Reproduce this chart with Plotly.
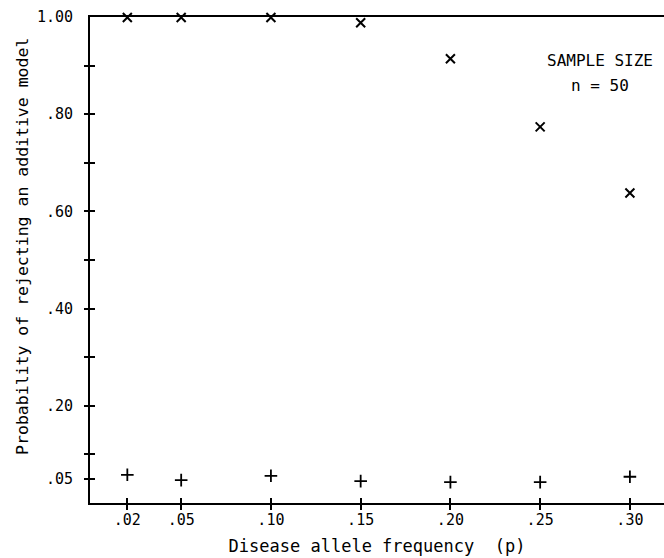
import plotly.graph_objects as go

# Data
p_values = [0.02, 0.05, 0.10, 0.15, 0.20, 0.25, 0.30]
x_series = [0.999, 0.999, 0.999, 0.988, 0.914, 0.774, 0.638]      # "X" markers
plus_series = [0.058, 0.047, 0.056, 0.045, 0.043, 0.043, 0.054]   # "+" markers

x_tick_vals = [0.02, 0.05, 0.10, 0.15, 0.20, 0.25, 0.30]
x_tick_text = [".02", ".05", ".10", ".15", ".20", ".25", ".30"]
y_label_vals = [0.05, 0.20, 0.40, 0.60, 0.80, 1.00]
y_label_text = [".05", ".20", ".40", ".60", ".80", "1.00"]
y_tick_vals = [0.05, 0.1, 0.2, 0.3, 0.4, 0.5, 0.6, 0.7, 0.8, 0.9]

FONT = "DejaVu Sans Mono"
XR = [-0.0008, 0.319]
YR = [0, 1]

fig = go.Figure()
fig.add_trace(go.Scatter(
    x=p_values, y=x_series, mode="markers",
    marker=dict(symbol="x-thin-open", size=9, line=dict(color="black", width=2), color="black"),
    showlegend=False, cliponaxis=False))
fig.add_trace(go.Scatter(
    x=p_values, y=plus_series, mode="markers",
    marker=dict(symbol="cross-thin-open", size=9, line=dict(color="black", width=1.8), color="black"),
    showlegend=False, cliponaxis=False))
# empty traces to attach overlay axes for crossing ticks
fig.add_trace(go.Scatter(x=[], y=[], xaxis="x2", yaxis="y2", showlegend=False))
fig.add_trace(go.Scatter(x=[], y=[], xaxis="x", yaxis="y3", showlegend=False))

fig.update_layout(
    width=664, height=558,
    margin=dict(l=90, r=0, t=17, b=55),
    paper_bgcolor="white", plot_bgcolor="white",
    font=dict(family=FONT, color="black", size=15),
    xaxis=dict(
        range=XR, showgrid=False, zeroline=False,
        showline=True, linecolor="black", linewidth=2, mirror=True,
        tickmode="array", tickvals=x_tick_vals, ticktext=x_tick_text,
        ticks="outside", ticklen=5, tickwidth=1.5, tickcolor="black",
        tickfont=dict(size=15, family=FONT), ticklabelstandoff=-3,
        title=dict(text="Disease allele frequency  (p)", font=dict(size=17, family=FONT), standoff=12),
    ),
    yaxis=dict(
        range=YR, showgrid=False, zeroline=False,
        showline=True, linecolor="black", linewidth=2,
        tickmode="array", tickvals=y_label_vals, ticktext=y_label_text,
        ticks="", tickfont=dict(size=15, family=FONT),
        ticklabelstandoff=12,
    ),
    xaxis2=dict(
        range=XR, overlaying="x", anchor="y2", side="bottom",
        showgrid=False, zeroline=False, showline=False,
        tickmode="array", tickvals=x_tick_vals, showticklabels=False,
        ticks="inside", ticklen=5, tickwidth=1.5, tickcolor="black",
    ),
    yaxis2=dict(
        range=YR, overlaying="y", anchor="x2", side="left",
        showgrid=False, zeroline=False, showline=False,
        tickmode="array", tickvals=y_tick_vals, showticklabels=False,
        ticks="inside", ticklen=5, tickwidth=1.5, tickcolor="black",
    ),
    yaxis3=dict(
        range=YR, overlaying="y", anchor="x", side="left",
        showgrid=False, zeroline=False, showline=False,
        tickmode="array", tickvals=y_tick_vals, showticklabels=False,
        ticks="outside", ticklen=5, tickwidth=1.5, tickcolor="black",
    ),
    annotations=[
        dict(text="Probability of rejecting an additive model", textangle=-90,
             x=0, y=0.527, xref="paper", yref="paper", xanchor="center", yanchor="middle",
             xshift=-67, showarrow=False, font=dict(size=16.5, family=FONT)),
        dict(text="SAMPLE SIZE", x=0.2834, y=0.9105, xref="x", yref="y", showarrow=False,
             font=dict(size=16, family=FONT)),
        dict(text="n = 50", x=0.2834, y=0.860, xref="x", yref="y", showarrow=False,
             font=dict(size=16, family=FONT)),
    ],
)

fig.write_html("out.html", config={"displayModeBar": False},
               post_script="document.body.style.margin='0px';")
